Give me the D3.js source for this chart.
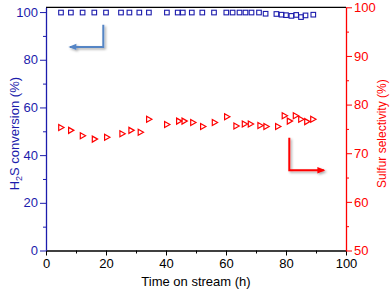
<!DOCTYPE html>
<html>
<head>
<meta charset="utf-8">
<script src="https://cdn.jsdelivr.net/npm/d3@7"></script>
<style>
body { margin: 0; background: #fff; }
text { font-family: "Liberation Sans", Arial, sans-serif; }
</style>
</head>
<body>
<div id="chart"></div>
<script>
// time on stream (h) / H2S conversion (%)
var convTime = [5.0, 8.3, 12.2, 16.1, 20.0, 25.0, 27.8, 31.1, 34.3, 40.3, 43.9, 45.6, 48.6,
	52.1, 56.0, 60.1, 62.2, 64.5, 66.5, 68.5, 71.0, 73.2, 76.8, 78.5, 80.0, 81.8, 83.4, 85.0, 86.5, 89.1];
var conversion = [99.8, 99.8, 99.8, 99.8, 99.8, 99.8, 99.8, 99.8, 99.8, 99.8, 99.8, 99.8, 99.8,
	99.8, 99.8, 99.8, 99.8, 99.8, 99.8, 99.8, 99.8, 99.3, 99.2, 98.9, 98.7, 98.4, 98.8, 97.9, 98.6, 98.9];

// time on stream (h) / sulfur selectivity (%)
var selTime = [5.0, 8.3, 12.2, 16.2, 20.3, 25.4, 28.4, 31.5, 34.3, 40.3, 44.3, 46.1, 49.0,
	52.3, 56.2, 60.3, 63.4, 66.2, 68.2, 71.4, 73.4, 77.3, 79.5, 81.2, 83.2, 85.0, 87.0, 89.0];
var selectivity = [75.3, 74.7, 73.6, 72.9, 73.3, 74.0, 74.7, 74.3, 77.0, 75.9, 76.6, 76.6, 76.3,
	75.5, 76.3, 77.5, 75.6, 76.0, 76.0, 75.7, 75.5, 75.5, 77.7, 76.6, 77.7, 77.0, 76.5, 77.0];

var xTicks = [0, 20, 40, 60, 80, 100];
var leftTicks = [0, 20, 40, 60, 80, 100];
var rightTicks = [50, 60, 70, 80, 90, 100];

// guide arrows: [time, value]
var blueArrow = [[19.1, 94.7], [19.1, 85.4], [8.0, 85.4]];
var redArrow = [[81.1, 73.2], [81.1, 66.5], [92.6, 66.5]];

var width = 390, height = 291;
var margin = {top: 7.3, right: 44, bottom: 40.5, left: 46};
var blue = '#1c1cac', red = '#ff0000';

var svg = d3.select('#chart').append('svg')
	.attr('width', width)
	.attr('height', height);

var defs = svg.append('defs');
var shadow = defs.append('filter').attr('id', 'shadow')
	.attr('x', '-50%').attr('y', '-50%').attr('width', '200%').attr('height', '200%');
shadow.append('feDropShadow')
	.attr('dx', 1.5).attr('dy', 1.5).attr('stdDeviation', 1)
	.attr('flood-color', '#000').attr('flood-opacity', 0.35);

var x = d3.scaleLinear().domain([0, 100]).range([margin.left, width - margin.right]);
var yL = d3.scaleLinear().domain([0, 102]).range([height - margin.bottom, margin.top]);
var yR = d3.scaleLinear().domain([50, 100]).range([height - margin.bottom, margin.top]);

// top frame line
svg.append('line')
	.attr('x1', x(0)).attr('x2', x(100))
	.attr('y1', margin.top).attr('y2', margin.top)
	.attr('stroke', '#000').attr('stroke-width', 1.3);

function styleAxis(g, color) {
	g.select('.domain').attr('stroke', color).attr('stroke-width', 1.3);
	g.selectAll('.tick line').attr('stroke', color).attr('stroke-width', 1);
	g.selectAll('.tick text').attr('fill', color).style('font-size', '13px')
		.style('font-family', '"Liberation Sans", Arial, sans-serif');
}

// minor ticks
function minor(axisFn, scale, vals, transform, color) {
	svg.append('g').attr('transform', transform)
		.call(axisFn(scale).tickValues(vals).tickSize(3).tickFormat(''))
		.call(function(g) {
			g.select('.domain').remove();
			g.selectAll('.tick line').attr('stroke', color);
		});
}
minor(d3.axisBottom, x, [10, 30, 50, 70, 90], 'translate(0,' + (height - margin.bottom) + ')', '#000');
minor(d3.axisLeft, yL, [10, 30, 50, 70, 90], 'translate(' + margin.left + ',0)', blue);
minor(d3.axisRight, yR, [55, 65, 75, 85, 95], 'translate(' + (width - margin.right) + ',0)', red);

var gx = svg.append('g')
	.attr('transform', 'translate(0,' + (height - margin.bottom) + ')')
	.call(d3.axisBottom(x).tickValues(xTicks).tickSize(5).tickPadding(3).tickSizeOuter(0));
styleAxis(gx, '#000');

var gl = svg.append('g')
	.attr('transform', 'translate(' + margin.left + ',0)')
	.call(d3.axisLeft(yL).tickValues(leftTicks).tickSize(6).tickPadding(2).tickSizeOuter(0));
styleAxis(gl, blue);

var gr = svg.append('g')
	.attr('transform', 'translate(' + (width - margin.right) + ',0)')
	.call(d3.axisRight(yR).tickValues(rightTicks).tickSize(6).tickPadding(2).tickSizeOuter(0));
styleAxis(gr, red);

// axis titles
svg.append('text')
	.attr('x', x(50)).attr('y', 286)
	.attr('text-anchor', 'middle')
	.style('font-size', '13px')
	.text('Time on stream (h)');

var lt = svg.append('text')
	.attr('transform', 'translate(19,' + yL(49) + ') rotate(-90)')
	.attr('text-anchor', 'middle')
	.attr('fill', blue)
	.style('font-size', '13px');
lt.append('tspan').text('H');
lt.append('tspan').text('2').attr('dy', 3).style('font-size', '9px');
lt.append('tspan').text('S conversion (%)').attr('dy', -3);

svg.append('text')
	.attr('transform', 'translate(386,' + yL(49) + ') rotate(-90)')
	.attr('text-anchor', 'middle')
	.attr('fill', red)
	.style('font-size', '12px')
	.text('Sulfur selectivity (%)');

// conversion squares
svg.append('g').selectAll('rect')
	.data(d3.range(convTime.length))
	.enter().append('rect')
	.attr('x', function(i) { return x(convTime[i]) - 2.3; })
	.attr('y', function(i) { return yL(conversion[i]) - 2.3; })
	.attr('width', 4.6)
	.attr('height', 4.6)
	.attr('fill', 'none')
	.attr('stroke', blue)
	.attr('stroke-width', 1.1);

// selectivity triangles
svg.append('g').selectAll('path')
	.data(d3.range(selTime.length))
	.enter().append('path')
	.attr('transform', function(i) { return 'translate(' + x(selTime[i]) + ',' + yR(selectivity[i]) + ')'; })
	.attr('d', 'M-2.3,-3 L-2.3,3 L3,0 Z')
	.attr('fill', 'none')
	.attr('stroke', red)
	.attr('stroke-width', 1.2);

// guide arrows
function arrow(pts, scale, color, id) {
	defs.append('marker').attr('id', id)
		.attr('viewBox', '0 0 10 10').attr('refX', 8).attr('refY', 5)
		.attr('markerWidth', 5).attr('markerHeight', 4)
		.attr('orient', 'auto')
		.append('path').attr('d', 'M0,1 L10,5 L0,9 Z').attr('fill', color);
	svg.append('path')
		.datum(pts)
		.attr('d', d3.line().x(function(d) { return x(d[0]); }).y(function(d) { return scale(d[1]); }))
		.attr('fill', 'none')
		.attr('stroke', color)
		.attr('stroke-width', 2)
		.attr('marker-end', 'url(#' + id + ')')
		.attr('filter', 'url(#shadow)');
}
arrow(blueArrow, yL, '#5585c5', 'ab');
arrow(redArrow, yR, red, 'ar');
</script>
</body>
</html>
